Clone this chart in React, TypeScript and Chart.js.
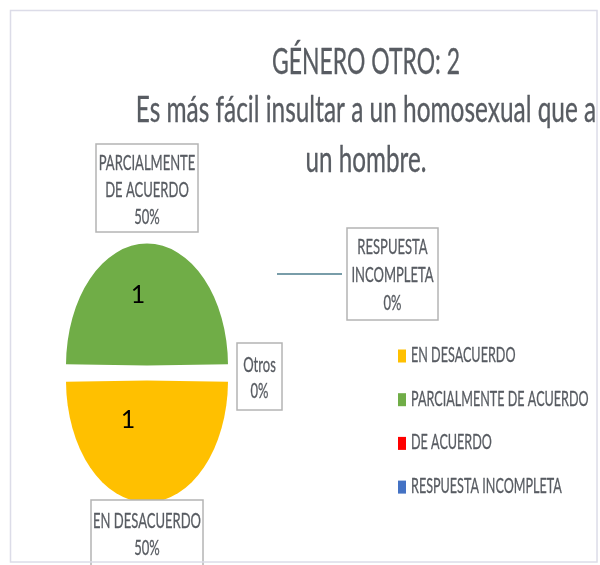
import React, { useEffect, useRef } from 'react';
import { Chart, registerables } from 'chart.js';

Chart.register(...registerables);

// ---- data ----
const titleLines = ['GÉNERO OTRO: 2', 'Es más fácil insultar a un homosexual que a', 'un hombre.'];
const categories = ['EN DESACUERDO', 'PARCIALMENTE DE ACUERDO', 'DE ACUERDO', 'RESPUESTA INCOMPLETA'];
const counts = [1, 1, 0, 0];
const sliceColors = ['#FFC000', '#70AD47', '#FF0000', '#4472C4'];
// label text shown in each slice's callout box (Excel data labels)
const calloutNames = [['EN DESACUERDO'], ['PARCIALMENTE', 'DE ACUERDO'], ['Otros'], ['RESPUESTA', 'INCOMPLETA']];

// ---- style ----
const FONT = 'Lato';
const SX = 0.62; // horizontal condensing of text
const GRAY = '#585c62';
const Y_STRETCH = 1.506; // the pie is drawn as a tall ellipse
const SLICE_OFFSET = 20;

const titleStyle = [
  { base: 74, sx: 0.62 },
  { base: 122, sx: 0.66 },
  { base: 172, sx: 0.655 },
];

// callout box layout (x, y, w, h, first baseline offset, line gap)
const calloutBoxes = [
  { x: 91, y: 500, w: 112, h: 80, first: 28, gap: 27 },
  { x: 96, y: 144, w: 102, h: 88, first: 26, gap: 27 },
  { x: 237, y: 343, w: 45, h: 67, first: 29, gap: 26 },
  { x: 347, y: 228, w: 91, h: 92, first: 26, gap: 28 },
];
// value label placement: fraction of radius along mid angle, horizontal nudge
const valueLabelPos = [
  { f: 0.32, dx: -19 },
  { f: 0.58, dx: -9 },
  { f: 0.5, dx: 0 },
  { f: 0.5, dx: 0 },
];

function cText(ctx: CanvasRenderingContext2D, text: string, x: number, y: number, size: number,
  align: 'left' | 'center' = 'center', color = GRAY, sx = SX, weight = 0.3) {
  ctx.save();
  ctx.font = `${size}px ${FONT}`;
  ctx.fillStyle = color;
  ctx.strokeStyle = color;
  ctx.lineWidth = weight;
  ctx.lineJoin = 'round';
  ctx.textBaseline = 'alphabetic';
  ctx.textAlign = 'left';
  const w = ctx.measureText(text).width * sx;
  const left = align === 'center' ? x - w / 2 : x;
  ctx.translate(left, y);
  ctx.scale(sx, 1);
  ctx.fillText(text, 0, 0);
  if (weight > 0) ctx.strokeText(text, 0, 0);
  ctx.restore();
}

const stretchPlugin = {
  id: 'stretch',
  beforeDatasetsDraw(chart: any) {
    const a = chart.getDatasetMeta(0).data[0];
    const ctx = chart.ctx;
    ctx.save();
    ctx.translate(a.x, a.y);
    ctx.scale(1, Y_STRETCH);
    ctx.translate(-a.x, -a.y);
  },
  afterDatasetsDraw(chart: any) {
    chart.ctx.restore();
  },
};

const decorPlugin = {
  id: 'decor',
  beforeDraw(chart: any) {
    const ctx = chart.ctx;
    ctx.save();
    ctx.fillStyle = '#ffffff';
    ctx.fillRect(0, 0, chart.width, chart.height);
    ctx.restore();
  },
  afterDraw(chart: any) {
    const ctx: CanvasRenderingContext2D = chart.ctx;
    const meta = chart.getDatasetMeta(0);
    const total = counts.reduce((s, v) => s + v, 0);

    // title
    titleLines.forEach((t, i) => cText(ctx, t, 366, titleStyle[i].base, 37, 'center', GRAY, titleStyle[i].sx, 0.35));

    // value labels inside slices
    meta.data.forEach((arc: any, i: number) => {
      if (!counts[i]) return;
      const mid = (arc.startAngle + arc.endAngle) / 2;
      const off = SLICE_OFFSET / 4;
      const r = off + valueLabelPos[i].f * (arc.outerRadius + off);
      const x = arc.x + Math.cos(mid) * r + valueLabelPos[i].dx;
      const y = arc.y + Math.sin(mid) * r * Y_STRETCH;
      ctx.save();
      ctx.font = `25px ${FONT}`;
      ctx.fillStyle = '#000000';
      ctx.textAlign = 'center';
      ctx.textBaseline = 'middle';
      ctx.fillText(String(counts[i]), x, y);
      ctx.restore();
    });

    // leader line for RESPUESTA INCOMPLETA
    ctx.save();
    ctx.strokeStyle = '#4d7c8c';
    ctx.lineWidth = 1.3;
    ctx.beginPath();
    ctx.moveTo(277, 274);
    ctx.lineTo(342, 274);
    ctx.stroke();
    ctx.restore();

    // callout boxes
    calloutBoxes.forEach((b, i) => {
      ctx.save();
      ctx.fillStyle = '#ffffff';
      ctx.fillRect(b.x, b.y, b.w, b.h);
      ctx.strokeStyle = '#b4b4b4';
      ctx.lineWidth = 1.5;
      ctx.strokeRect(b.x, b.y, b.w, b.h);
      ctx.restore();
      const pct = Math.round((counts[i] / total) * 100) + '%';
      const lines = [...calloutNames[i], pct];
      lines.forEach((l, j) => cText(ctx, l, b.x + b.w / 2, b.y + b.first + j * b.gap, 21));
    });

    // legend
    categories.forEach((c, i) => {
      const base = 362 + i * 43.7;
      ctx.save();
      ctx.fillStyle = sliceColors[i];
      ctx.fillRect(398, base - 12.5, 8, 13);
      ctx.restore();
      cText(ctx, c, 411, base, 21, 'left', GRAY, 0.6);
    });

    // outer frame
    ctx.save();
    ctx.strokeStyle = '#dcdce8';
    ctx.lineWidth = 1.5;
    ctx.strokeRect(10.5, 10.5, 586.5, 551.5);
    ctx.restore();
  },
};

export default function App() {
  const ref = useRef<HTMLCanvasElement>(null);
  useEffect(() => {
    const chart = new Chart(ref.current as HTMLCanvasElement, {
      type: 'pie',
      data: {
        labels: categories,
        datasets: [
          {
            data: counts,
            backgroundColor: sliceColors,
            borderWidth: 0,
            offset: SLICE_OFFSET,
            radius: 76,
            rotation: 90,
            clip: false,
          } as any,
        ],
      },
      options: {
        animation: false,
        responsive: true,
        maintainAspectRatio: false,
        events: [],
        layout: { padding: { left: 47, right: 353, top: 273, bottom: 92 } },
        plugins: {
          legend: { display: false },
          title: { display: false },
          tooltip: { enabled: false },
        },
      } as any,
      plugins: [decorPlugin, stretchPlugin],
    });
    return () => chart.destroy();
  }, []);
  return (
    <div style={{ position: 'absolute', left: 0, top: 0, width: 600, height: 565, background: '#fff' }}>
      <canvas ref={ref} />
    </div>
  );
}
